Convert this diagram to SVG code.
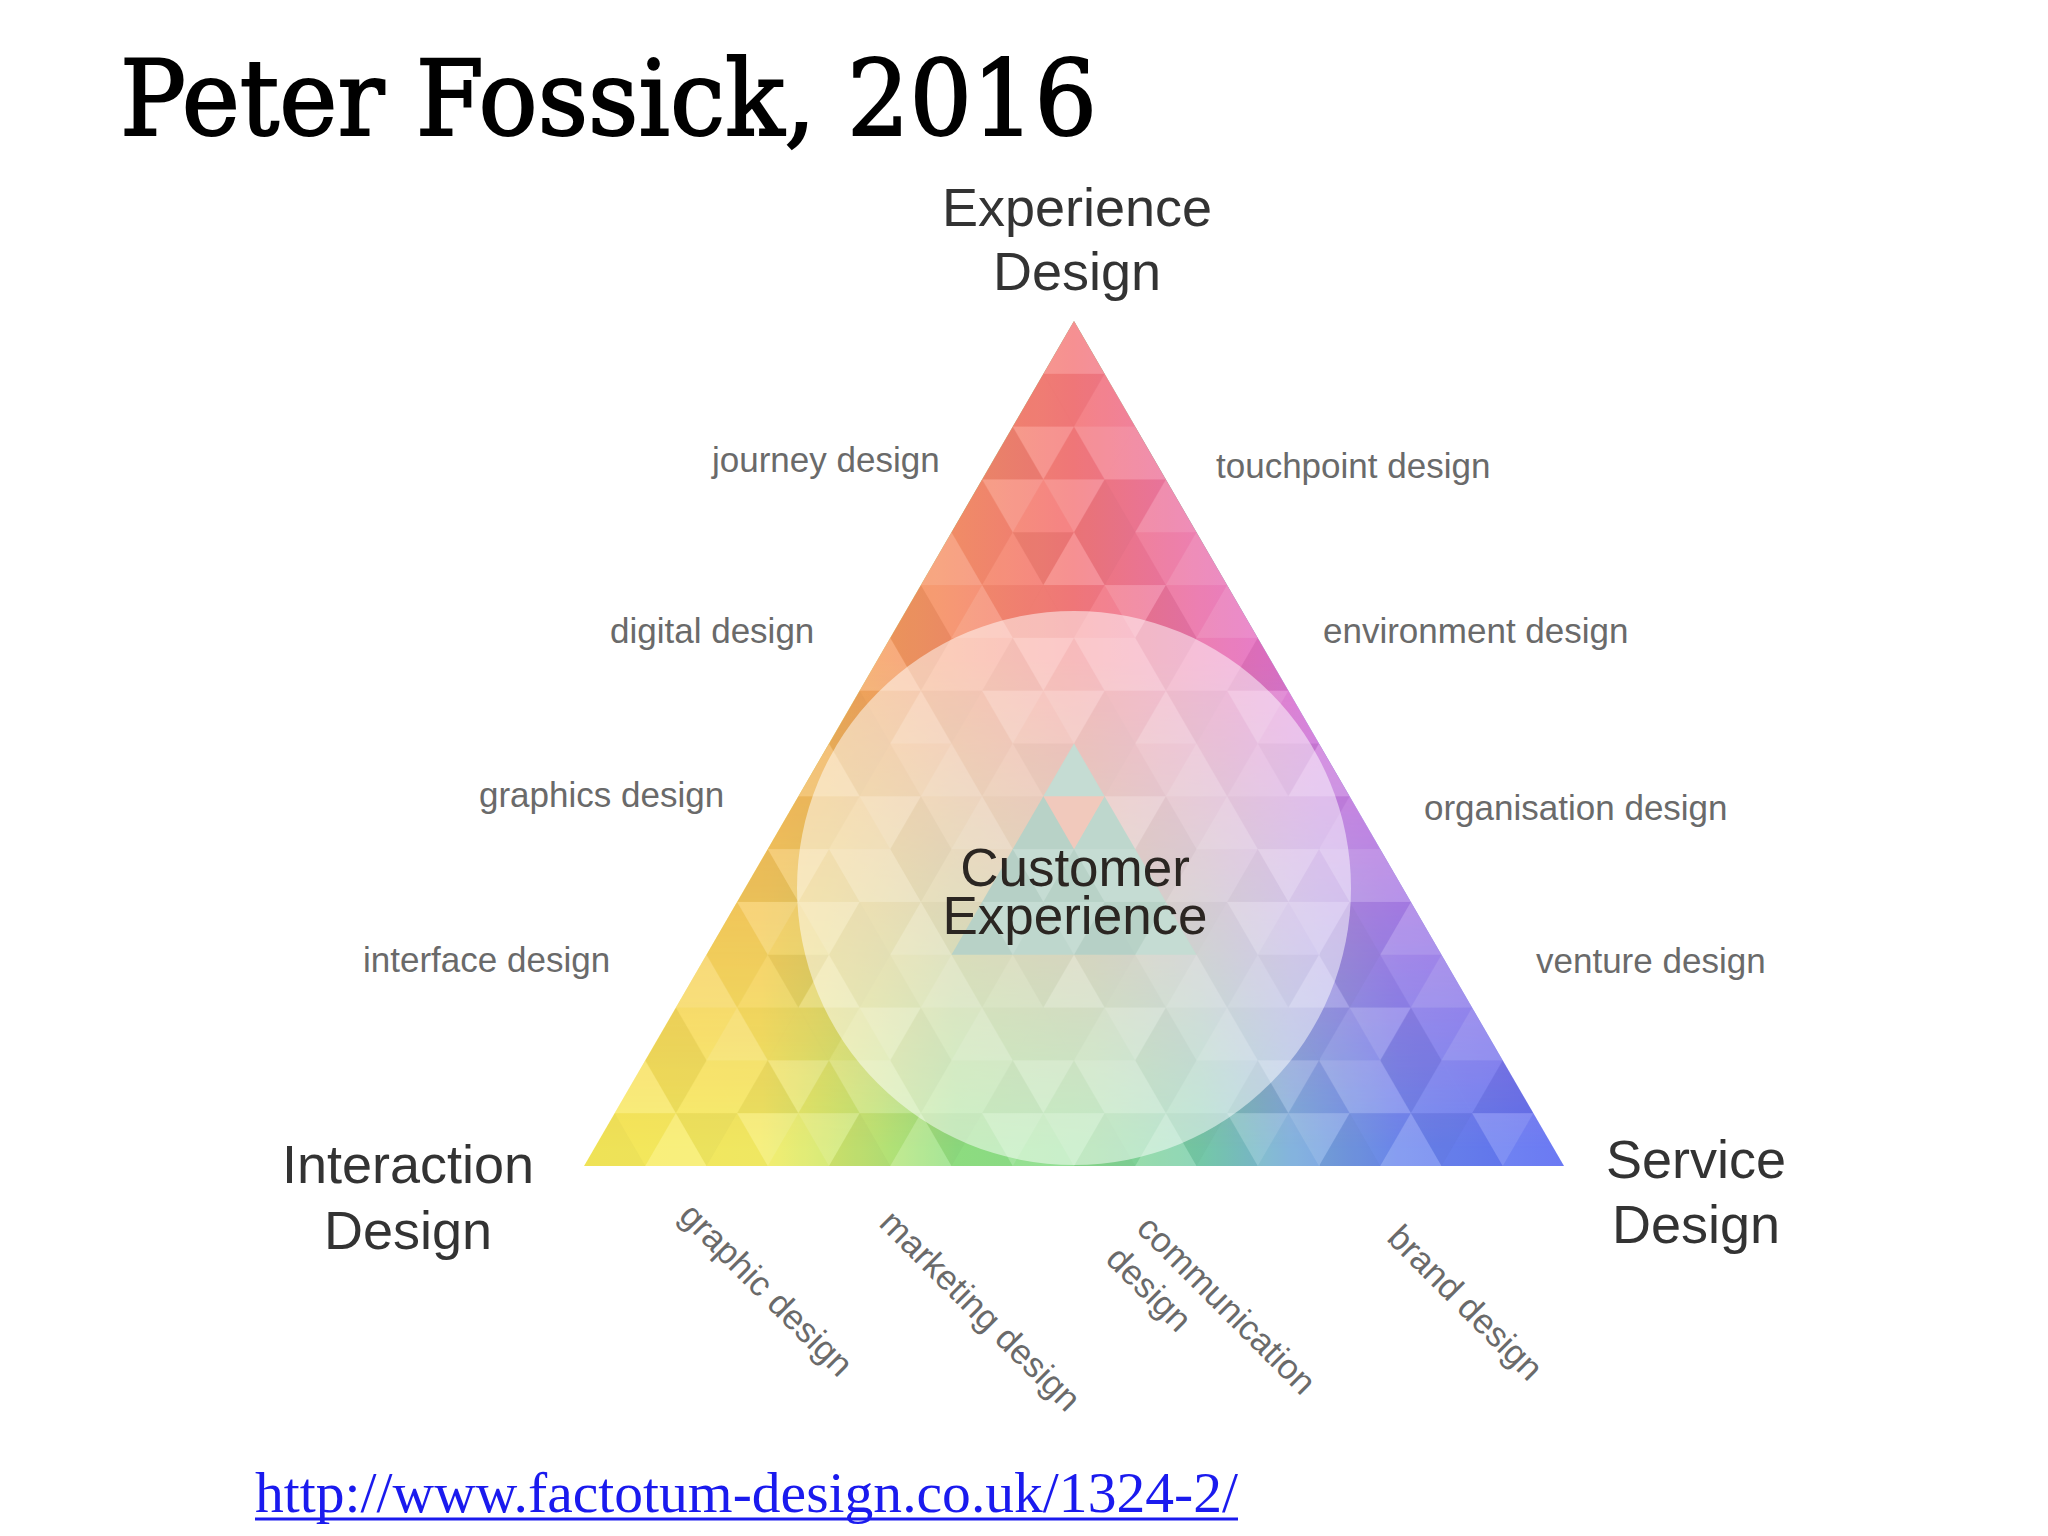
<svg xmlns="http://www.w3.org/2000/svg" width="2048" height="1536" viewBox="0 0 2048 1536">
<defs>
<style>
.lbl{font-family:"Liberation Sans",Arial,sans-serif;font-size:35px;fill:#6a6a6a}
.big{font-family:"Liberation Sans",Arial,sans-serif;font-size:54px;fill:#333333;text-anchor:middle}
.cx{font-family:"Liberation Sans",Arial,sans-serif;font-size:53px;fill:#2b2622;text-anchor:middle}
.a{fill:#ffffff;fill-opacity:.18}
.b{fill:#ffffff;fill-opacity:.08}
.c{fill:#000000;fill-opacity:.02}
.d{fill:#000000;fill-opacity:.045}
</style>
<linearGradient id="gBottom" gradientUnits="userSpaceOnUse" x1="584" y1="0" x2="1564" y2="0">
<stop offset="0" stop-color="#faec5a"/>
<stop offset="0.18" stop-color="#f4ec64"/>
<stop offset="0.30" stop-color="#bce676"/>
<stop offset="0.38" stop-color="#90e082"/>
<stop offset="0.52" stop-color="#88da8e"/>
<stop offset="0.63" stop-color="#76ccaa"/>
<stop offset="0.72" stop-color="#7aaeda"/>
<stop offset="0.83" stop-color="#6c88ee"/>
<stop offset="1" stop-color="#5e6ef2"/>
</linearGradient>
<linearGradient id="gTop" gradientUnits="userSpaceOnUse" x1="829" y1="0" x2="1319" y2="0">
<stop offset="0" stop-color="#f6a656"/>
<stop offset="0.5" stop-color="#f4787a"/>
<stop offset="1" stop-color="#e070da"/>
</linearGradient>
<linearGradient id="gFade" gradientUnits="userSpaceOnUse" x1="0" y1="321" x2="0" y2="1166">
<stop offset="0" stop-color="#ffffff" stop-opacity="1"/>
<stop offset="0.4" stop-color="#ffffff" stop-opacity="1"/>
<stop offset="0.98" stop-color="#ffffff" stop-opacity="0"/>
</linearGradient>
<mask id="mFade" maskUnits="userSpaceOnUse" x="500" y="300" width="1150" height="900">
<rect x="500" y="300" width="1150" height="900" fill="url(#gFade)"/>
</mask>
<polygon id="U" points="0,0 -30.625,52.8125 30.625,52.8125"/>
<polygon id="D" points="-30.625,0 30.625,0 0,52.8125"/>
<pattern id="mosaic" patternUnits="userSpaceOnUse" x="1074" y="321" width="245" height="211.25">
<use href="#U" x="0" y="0" class="a"/><use href="#D" x="30.625" y="0" class="d"/><use href="#U" x="61.25" y="0" class="c"/><use href="#D" x="91.875" y="0" class="b"/><use href="#U" x="122.5" y="0" class="a"/><use href="#D" x="153.125" y="0" class="c"/><use href="#U" x="183.75" y="0" class="b"/><use href="#D" x="214.375" y="0" class="d"/><use href="#U" x="245" y="0" class="a"/>
<use href="#D" x="0" y="52.8125" class="c"/><use href="#U" x="30.625" y="52.8125" class="b"/><use href="#D" x="61.25" y="52.8125" class="a"/><use href="#U" x="91.875" y="52.8125" class="d"/><use href="#D" x="122.5" y="52.8125" class="b"/><use href="#U" x="153.125" y="52.8125" class="a"/><use href="#D" x="183.75" y="52.8125" class="c"/><use href="#U" x="214.375" y="52.8125" class="c"/><use href="#D" x="245" y="52.8125" class="c"/>
<use href="#U" x="0" y="105.625" class="c"/><use href="#D" x="30.625" y="105.625" class="a"/><use href="#U" x="61.25" y="105.625" class="a"/><use href="#D" x="91.875" y="105.625" class="d"/><use href="#U" x="122.5" y="105.625" class="b"/><use href="#D" x="153.125" y="105.625" class="b"/><use href="#U" x="183.75" y="105.625" class="d"/><use href="#D" x="214.375" y="105.625" class="a"/><use href="#U" x="245" y="105.625" class="c"/>
<use href="#D" x="0" y="158.4375" class="a"/><use href="#U" x="30.625" y="158.4375" class="d"/><use href="#D" x="61.25" y="158.4375" class="c"/><use href="#U" x="91.875" y="158.4375" class="a"/><use href="#D" x="122.5" y="158.4375" class="d"/><use href="#U" x="153.125" y="158.4375" class="c"/><use href="#D" x="183.75" y="158.4375" class="a"/><use href="#U" x="214.375" y="158.4375" class="b"/><use href="#D" x="245" y="158.4375" class="a"/>
</pattern>
</defs>
<rect x="0" y="0" width="2048" height="1536" fill="#ffffff"/>

<g id="title">
<text x="120" y="135" font-family="'DejaVu Serif','Liberation Serif',serif" font-size="104" textLength="977" lengthAdjust="spacingAndGlyphs" fill="#000000" stroke="#000000" stroke-width="2">Peter Fossick, 2016</text>
</g>

<g id="triangle">
<polygon points="1074,321 584,1166 1564,1166" fill="url(#gBottom)"/>
<polygon points="1074,321 584,1166 1564,1166" fill="url(#gTop)" mask="url(#mFade)"/>
<polygon points="1074,743.5 951.5,954.75 1196.5,954.75" fill="#72a892"/>
<polygon points="1043.375,796.3125 1104.625,796.3125 1074,849.125" fill="#e8957a"/>
<polygon points="1074,321 584,1166 1564,1166" fill="url(#mosaic)"/>
</g>

<g id="customer-experience">
<circle cx="1074" cy="888" r="277" fill="#ffffff" fill-opacity="0.5"/>
<text class="cx" x="1075" y="886">Customer</text>
<text class="cx" x="1075" y="934">Experience</text>
</g>

<g id="experience-design">
<text class="big" x="1077" y="226">Experience</text>
<text class="big" x="1077" y="290">Design</text>
</g>
<g id="interaction-design">
<text class="big" x="408" y="1183">Interaction</text>
<text class="big" x="408" y="1249">Design</text>
</g>
<g id="service-design">
<text class="big" x="1696" y="1178">Service</text>
<text class="big" x="1696" y="1243">Design</text>
</g>

<g id="journey-design"><text class="lbl" x="712" y="472">journey design</text></g>
<g id="touchpoint-design"><text class="lbl" x="1216" y="478">touchpoint design</text></g>
<g id="digital-design"><text class="lbl" x="610" y="643">digital design</text></g>
<g id="environment-design"><text class="lbl" x="1323" y="643">environment design</text></g>
<g id="graphics-design"><text class="lbl" x="479" y="807">graphics design</text></g>
<g id="organisation-design"><text class="lbl" x="1424" y="820">organisation design</text></g>
<g id="interface-design"><text class="lbl" x="363" y="972">interface design</text></g>
<g id="venture-design"><text class="lbl" x="1536" y="973">venture design</text></g>

<g id="graphic-design" transform="translate(758,1298) rotate(45)"><text class="lbl" x="0" y="0" text-anchor="middle">graphic design</text></g>
<g id="marketing-design" transform="translate(972,1319) rotate(45)"><text class="lbl" x="0" y="0" text-anchor="middle">marketing design</text></g>
<g id="communication-design" transform="translate(1135,1230) rotate(45)"><text class="lbl" x="0" y="0">communication</text><text class="lbl" x="0" y="43.5">design</text></g>
<g id="brand-design" transform="translate(1457,1311) rotate(45)"><text class="lbl" x="0" y="0" text-anchor="middle">brand design</text></g>

<g id="connectors"></g>

<g id="source-link">
<text x="255" y="1512" font-family="'Liberation Serif','Times New Roman',serif" font-size="57" textLength="983" lengthAdjust="spacingAndGlyphs" fill="#1a1aee">http://www.factotum-design.co.uk/1324-2/</text>
<line x1="255" y1="1519" x2="1238" y2="1519" stroke="#1a1aee" stroke-width="3"/>
</g>
</svg>
